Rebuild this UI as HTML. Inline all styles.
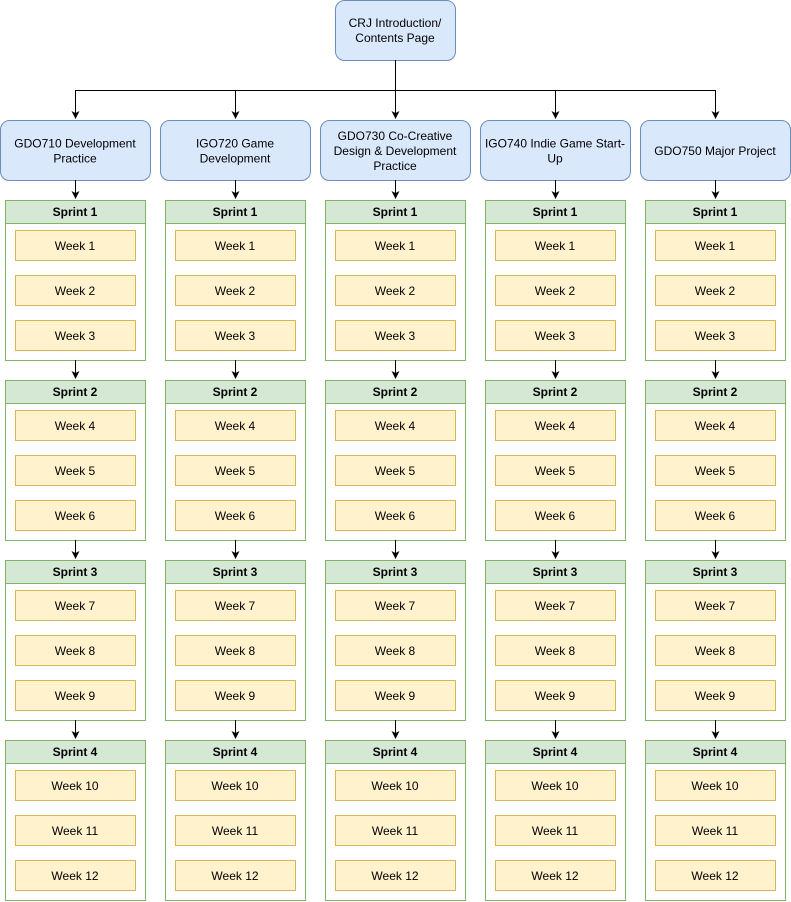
<!DOCTYPE html>
<html><head><meta charset="utf-8">
<style>
html,body{margin:0;padding:0;background:#fff;}
svg{display:block;}
text{font-family:"Liberation Sans",Arial,sans-serif;font-size:12px;fill:#000;}
</style></head>
<body>
<svg id="s" width="791" height="902" xmlns="http://www.w3.org/2000/svg">
<defs><marker id="a" markerWidth="8" markerHeight="8" refX="7" refY="4" orient="auto" markerUnits="userSpaceOnUse"><path d="M0,0 L8,4 L0,8 L2,4 Z" fill="#000"/></marker></defs>
<rect x="335.5" y="0.5" width="120" height="60" rx="9" fill="#dae8fc" stroke="#6c8ebf"/>
<text x="395" y="27" text-anchor="middle">CRJ Introduction/</text>
<text x="395" y="42" text-anchor="middle">Contents Page</text>
<path d="M395.5,60 V90.5 M75.5,90.5 H715.5" stroke="#000" fill="none"/>
</svg>
<script>
var s=document.getElementById('s'),h='';
var mods=[["GDO710 Development","Practice"],["IGO720 Game","Development"],["GDO730 Co-Creative","Design & Development","Practice"],["IGO740 Indie Game Start-","Up"],["GDO750 Major Project"]];
for(var i=0;i<5;i++){
 var x=160*i,c=x+75.5;
 h+='<path d="M'+c+',90 V118" stroke="#000" marker-end="url(#a)"/>';
 h+='<rect x="'+(x+0.5)+'" y="120.5" width="150" height="60" rx="9" fill="#dae8fc" stroke="#6c8ebf"/>';
 var m=mods[i],y0=155-(m.length-1)*7.5;
 for(var k=0;k<m.length;k++)h+='<text x="'+(x+75)+'" y="'+(y0+k*15)+'" text-anchor="middle">'+m[k].replace('&','&amp;')+'</text>';
 for(var sp=0;sp<4;sp++){
  var y=200+sp*180;
  var py=sp==0?180:y-20;
  h+='<path d="M'+c+','+py+' V'+(y-2)+'" stroke="#000" marker-end="url(#a)"/>';
  h+='<rect x="'+(x+5.5)+'" y="'+(y+0.5)+'" width="140" height="160" fill="#fff" stroke="#82b366"/>';
  h+='<rect x="'+(x+5.5)+'" y="'+(y+0.5)+'" width="140" height="23" fill="#d5e8d4" stroke="#82b366"/>';
  h+='<text x="'+(x+75)+'" y="'+(y+16)+'" text-anchor="middle" font-weight="bold">Sprint '+(sp+1)+'</text>';
  for(var w=0;w<3;w++){
   var wy=y+30+w*45;
   h+='<rect x="'+(x+15.5)+'" y="'+(wy+0.5)+'" width="120" height="30" fill="#fff2cc" stroke="#d6b656"/>';
   h+='<text x="'+(x+75)+'" y="'+(wy+20)+'" text-anchor="middle">Week '+(sp*3+w+1)+'</text>';
  }
 }
}
s.insertAdjacentHTML('beforeend',h);
</script>
</body></html>
